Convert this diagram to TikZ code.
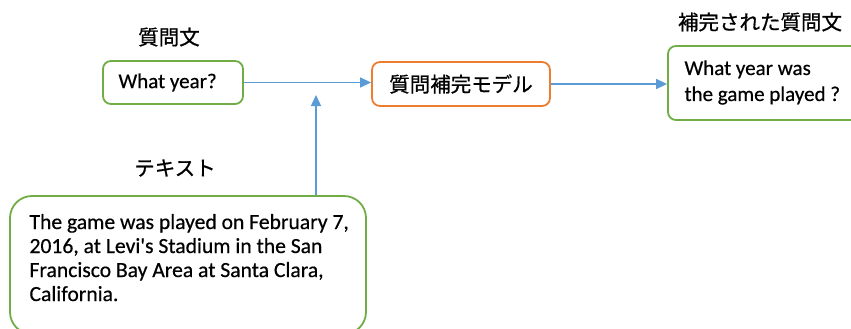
\documentclass[tikz,border=0pt]{standalone}
\usepackage{fontspec}
\setmainfont{Carlito}[Ligatures=TeXOff, FakeBold=0.5]
\newfontfamily\jpfont{Noto Sans CJK JP}[FakeBold=0.8]
\usetikzlibrary{arrows.meta}
\definecolor{boxgreen}{HTML}{70AD47}
\definecolor{boxorange}{HTML}{ED7D31}
\definecolor{arrowblue}{HTML}{5B9BD5}
\tikzset{
  gbox/.style={draw=boxgreen, line width=1.8pt, rounded corners=8pt, fill=white, inner sep=0pt},
  obox/.style={draw=boxorange, line width=1.8pt, rounded corners=8pt, fill=white, inner sep=0pt},
  bigbox/.style={draw=boxgreen, line width=1.8pt, rounded corners=22pt, fill=white, inner sep=0pt},
  lat/.style={font=\fontsize{21}{25}\selectfont},
  jlab/.style={font=\jpfont\fontsize{20.5}{24}\selectfont},
  conn/.style={draw=arrowblue, line width=1.5pt, -{Triangle[length=11pt,width=10pt]}}
}
\begin{document}
\begin{tikzpicture}[x=1pt,y=-1pt]
\useasboundingbox (0,0) rectangle (851,329);
\clip (0,0) rectangle (851,329);
% labels
\node[jlab] (l1) at (169,37) {質問文};
\node[jlab] (l2) at (175,168) {テキスト};
\node[jlab] (l3) at (760,22) {補完された質問文};
% boxes
\node[gbox, minimum width=140pt, minimum height=43pt] (q) at (173,82.5) {};
\node[lat, anchor=west] (qtext) at (115,82.5) {What year?};
\node[obox, jlab, minimum width=178pt, minimum height=44pt] (m) at (461,84) {質問補完モデル};
\node[gbox, minimum width=205pt, minimum height=74pt] (out) at (770.5,83) {};
\node[anchor=west, align=left, font=\fontsize{21}{26}\selectfont] (outtext) at (681,82.5) {What year was\\the game played ?};
\node[bigbox, minimum width=356pt, minimum height=138pt] (ctx) at (188,265) {};
\node[anchor=north west, align=left, font=\fontsize{21.6}{24}\selectfont] (ctxtext) at (26,210.5) {The game was played on February 7,\\2016, at Levi's Stadium in the San\\Francisco Bay Area at Santa Clara,\\California.};
% connectors
\draw[conn] (q.east) -- (q.east -| m.west);
\draw[conn] (m.east) -- (m.east -| out.west);
\coordinate (tip) at (316,95);
\draw[conn] (ctx.north -| tip) -- (tip);
\end{tikzpicture}
\end{document}
